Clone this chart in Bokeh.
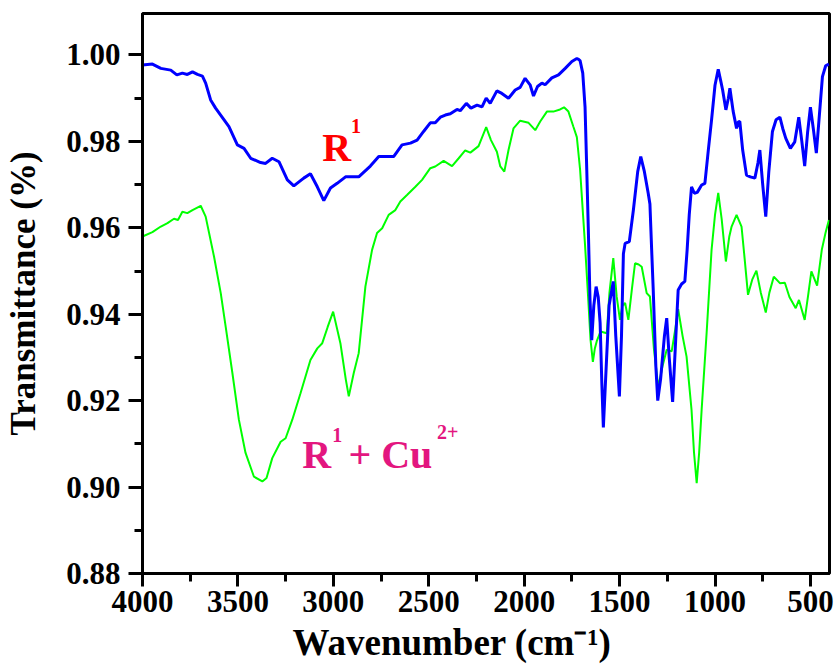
from bokeh.plotting import figure
from bokeh.models import Range1d, FixedTicker, Title, Label, NumeralTickFormatter
from bokeh.embed import file_html
from bokeh.resources import INLINE

# ---------------- data ----------------
wn_r1 = [4000, 3948, 3904, 3852, 3820, 3791, 3765, 3738, 3712, 3686, 3669, 3643, 3617,
         3547, 3503, 3468, 3433, 3381, 3355, 3320, 3285, 3241, 3207, 3155, 3120, 3084,
         3050, 3015, 2980, 2936, 2867, 2806, 2762, 2684, 2640, 2596, 2561, 2527, 2492,
         2466, 2439, 2413, 2387, 2352, 2335, 2303, 2279, 2247, 2221, 2199, 2178, 2143,
         2117, 2082, 2047, 2021, 1995, 1969, 1951, 1930, 1907, 1890, 1855, 1820, 1785,
         1750, 1724, 1716, 1707, 1693, 1681, 1672, 1664, 1655, 1646, 1635, 1623, 1612,
         1602, 1593, 1585, 1570, 1555, 1533, 1520, 1501, 1490, 1480, 1471, 1449, 1428,
         1405, 1389, 1370, 1350, 1341, 1332, 1324, 1310, 1300, 1285, 1265, 1253, 1240,
         1222, 1205, 1193, 1175, 1158, 1146, 1135, 1123, 1108, 1093, 1070, 1053, 1035,
         1018, 1000, 983, 970, 960, 943, 930, 922, 905, 887, 878, 870, 855, 835, 815,
         791, 775, 765, 750, 734, 718, 699, 680, 660, 645, 629, 605, 582, 561, 545, 530,
         515, 500, 485, 469, 455, 437, 420, 403]
t_r1 = [0.9977, 0.9979, 0.9969, 0.9965, 0.9954, 0.9958, 0.9955, 0.9961, 0.9955, 0.9951,
        0.9935, 0.9896, 0.9877, 0.9834, 0.9792, 0.9784, 0.9761, 0.9751, 0.9749, 0.9761,
        0.9753, 0.9711, 0.9697, 0.9715, 0.9725, 0.9695, 0.9663, 0.9692, 0.9703, 0.9718,
        0.9718, 0.9743, 0.9765, 0.9765, 0.9792, 0.9796, 0.9803, 0.9823, 0.9843, 0.9843,
        0.9856, 0.9861, 0.9864, 0.9874, 0.9871, 0.9888, 0.9877, 0.9884, 0.9880, 0.9900,
        0.9888, 0.9917, 0.9911, 0.9900, 0.9919, 0.9925, 0.9946, 0.9931, 0.9905, 0.9927,
        0.9935, 0.9931, 0.9947, 0.9954, 0.9969, 0.9985, 0.9992, 0.9990, 0.9987, 0.9958,
        0.9880, 0.9735, 0.9600, 0.9433, 0.9340, 0.9420, 0.9464, 0.9440, 0.9380, 0.9240,
        0.9138, 0.9280, 0.9420, 0.9476, 0.9350, 0.9210, 0.9350, 0.9540, 0.9564, 0.9568,
        0.9640, 0.9730, 0.9765, 0.9730, 0.9680, 0.9655, 0.9550, 0.9460, 0.9280, 0.9200,
        0.9250, 0.9350, 0.9391, 0.9300, 0.9197, 0.9350, 0.9456, 0.9470, 0.9476, 0.9549,
        0.9630, 0.9695, 0.9680, 0.9682, 0.9699, 0.9703, 0.9780, 0.9850, 0.9930, 0.9967,
        0.9940, 0.9919, 0.9873, 0.9900, 0.9923, 0.9870, 0.9830, 0.9845, 0.9846, 0.9780,
        0.9722, 0.9718, 0.9715, 0.9750, 0.9780, 0.9700, 0.9626, 0.9730, 0.9823, 0.9850,
        0.9856, 0.9830, 0.9807, 0.9784, 0.9799, 0.9856, 0.9800, 0.9743, 0.9820, 0.9879,
        0.9830, 0.9773, 0.9850, 0.9950, 0.9975, 0.9979]

wn_cu = [4000, 3948, 3904, 3869, 3835, 3814, 3791, 3765, 3738, 3695, 3669, 3625, 3590,
         3564, 3529, 3495, 3460, 3416, 3372, 3350, 3320, 3276, 3250, 3215, 3172, 3120,
         3084, 3058, 3030, 3001, 2963, 2935, 2919, 2893, 2867, 2832, 2797, 2771, 2744,
         2710, 2675, 2649, 2614, 2570, 2535, 2492, 2466, 2422, 2378, 2343, 2309, 2282,
         2239, 2199, 2174, 2143, 2125, 2104, 2082, 2056, 2021, 1977, 1942, 1916, 1881,
         1847, 1812, 1791, 1768, 1742, 1724, 1707, 1690, 1681, 1664, 1652, 1640, 1630,
         1620, 1600, 1567, 1553, 1533, 1515, 1498, 1485, 1471, 1454, 1435, 1419, 1400,
         1384, 1358, 1341, 1320, 1297, 1275, 1253, 1227, 1210, 1193, 1170, 1149, 1123,
         1110, 1096, 1083, 1070, 1044, 1018, 1000, 983, 965, 943, 925, 913, 887, 861,
         845, 827, 805, 783, 760, 734, 715, 692, 660, 634, 610, 577, 560, 530, 510, 495,
         465, 440, 420, 403]
t_cu = [0.9580, 0.9590, 0.9603, 0.9611, 0.9621, 0.9618, 0.9637, 0.9634, 0.9641, 0.9651,
        0.9626, 0.9533, 0.9449, 0.9371, 0.9264, 0.9156, 0.9079, 0.9024, 0.9013, 0.9021,
        0.9067, 0.9105, 0.9113, 0.9156, 0.9217, 0.9294, 0.9321, 0.9333, 0.9370, 0.9406,
        0.9333, 0.9250, 0.9210, 0.9264, 0.9310, 0.9464, 0.9549, 0.9588, 0.9599, 0.9630,
        0.9641, 0.9661, 0.9676, 0.9695, 0.9711, 0.9738, 0.9742, 0.9755, 0.9743, 0.9761,
        0.9779, 0.9774, 0.9789, 0.9833, 0.9803, 0.9776, 0.9742, 0.9730, 0.9780, 0.9830,
        0.9848, 0.9843, 0.9826, 0.9846, 0.9869, 0.9869, 0.9874, 0.9879, 0.9869, 0.9834,
        0.9810, 0.9735, 0.9620, 0.9560, 0.9433, 0.9340, 0.9290, 0.9320, 0.9337, 0.9360,
        0.9356, 0.9450, 0.9530, 0.9440, 0.9387, 0.9420, 0.9426, 0.9387, 0.9460, 0.9518,
        0.9515, 0.9510, 0.9449, 0.9441, 0.9320, 0.9231, 0.9280, 0.9318, 0.9314, 0.9360,
        0.9412, 0.9350, 0.9302, 0.9179, 0.9080, 0.9009, 0.9080, 0.9179, 0.9356, 0.9549,
        0.9630, 0.9681, 0.9620, 0.9522, 0.9580, 0.9603, 0.9630, 0.9603, 0.9530, 0.9445,
        0.9480, 0.9501, 0.9450, 0.9404, 0.9450, 0.9487, 0.9472, 0.9473, 0.9440, 0.9414,
        0.9433, 0.9387, 0.9450, 0.9499, 0.9466, 0.9550, 0.9590, 0.9618]

x_major = [4000, 3500, 3000, 2500, 2000, 1500, 1000, 500]
x_minor = [3750, 3250, 2750, 2250, 1750, 1250, 750]
y_major = [0.88, 0.90, 0.92, 0.94, 0.96, 0.98, 1.00]
y_minor = [0.89, 0.91, 0.93, 0.95, 0.97, 0.99]

x_title = "Wavenumber (cm\u207b\u00b9)"
y_title = "Transmittance (%)"

FONT = "Liberation Serif"

p = figure(width=838, height=669, output_backend="svg", toolbar_location=None,
           x_range=Range1d(4000, 400), y_range=Range1d(0.88, 1.0096),
           min_border_left=142, min_border_right=9, min_border_top=13,
           min_border_bottom=96)
p.xgrid.visible = False
p.ygrid.visible = False
p.background_fill_color = "white"
p.border_fill_color = "white"
p.outline_line_color = "black"
p.outline_line_width = 3

p.line(wn_cu, t_cu, line_color="#00ff00", line_width=2)
p.line(wn_r1, t_r1, line_color="#0000ff", line_width=3)

p.xaxis.ticker = FixedTicker(ticks=x_major, minor_ticks=x_minor)
p.yaxis.ticker = FixedTicker(ticks=y_major, minor_ticks=y_minor)
p.yaxis.formatter = NumeralTickFormatter(format="0.00")

for ax in (p.xaxis, p.yaxis):
    ax.axis_line_width = 3
    ax.axis_line_color = "black"
    ax.major_tick_line_width = 3
    ax.minor_tick_line_width = 3
    ax.major_tick_in = 0
    ax.major_tick_out = 14
    ax.minor_tick_in = 0
    ax.minor_tick_out = 8
    ax.major_label_text_font = FONT
    ax.major_label_text_font_style = "bold"
    ax.major_label_text_font_size = "31px"
    ax.major_label_text_color = "black"
p.xaxis.major_tick_out = 13
p.yaxis.major_label_standoff = 8
p.xaxis.major_label_standoff = 4

p.yaxis.axis_label = y_title
p.yaxis.axis_label_text_font = FONT
p.yaxis.axis_label_text_font_style = "bold"
p.yaxis.axis_label_text_font_size = "35px"
p.yaxis.axis_label_text_color = "black"
p.yaxis.axis_label_standoff = 20

p.add_layout(Title(text=x_title, align="left", offset=150, text_font=FONT,
                   text_font_style="bold", text_font_size="37px",
                   text_color="black", standoff=11), "below")

red = "#ff0000"
pink = "#e3167f"
p.add_layout(Label(x=3058, y=0.97865, text="R", text_font=FONT, text_font_style="bold",
                   text_font_size="40px", text_color=red, text_baseline="alphabetic"))
p.add_layout(Label(x=2907, y=0.98357, text="1", text_font=FONT, text_font_style="bold",
                   text_font_size="20px", text_color=red, text_baseline="alphabetic"))
p.add_layout(Label(x=3163, y=0.90746, text="R", text_font=FONT, text_font_style="bold",
                   text_font_size="40px", text_color=pink, text_baseline="alphabetic"))
p.add_layout(Label(x=3006, y=0.91209, text="1", text_font=FONT, text_font_style="bold",
                   text_font_size="20px", text_color=pink, text_baseline="alphabetic"))
p.add_layout(Label(x=2921, y=0.90746, text="+ Cu", text_font=FONT, text_font_style="bold",
                   text_font_size="40px", text_color=pink, text_baseline="alphabetic"))
p.add_layout(Label(x=2457, y=0.91285, text="2+", text_font=FONT, text_font_style="bold",
                   text_font_size="20px", text_color=pink, text_baseline="alphabetic"))

open("out.html", "w").write(file_html(p, INLINE))
